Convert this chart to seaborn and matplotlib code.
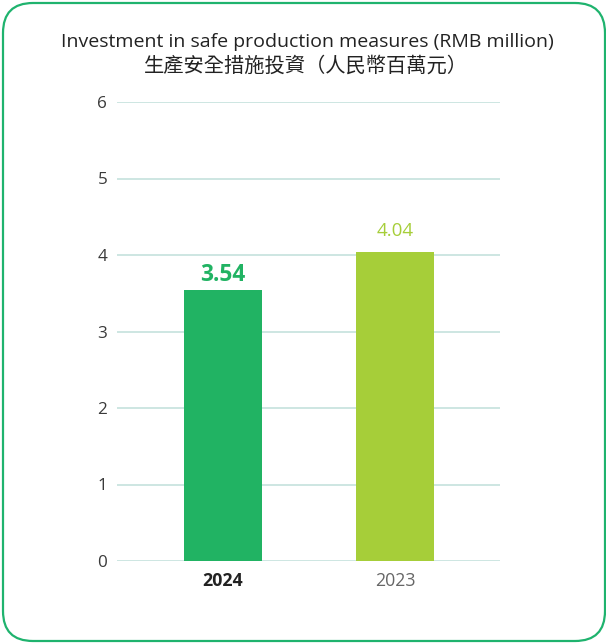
import matplotlib
matplotlib.use("Agg")
import matplotlib.pyplot as plt
from matplotlib.patches import FancyBboxPatch
import seaborn as sns
import pandas as pd

years = ["2024", "2023"]
values = [3.54, 4.04]
bar_colors = ["#21b363", "#a6ce39"]
y_ticks = [0, 1, 2, 3, 4, 5, 6]
title_en = "Investment in safe production measures (RMB million)"
title_zh = "生產安全措施投資（人民幣百萬元）"

sns.set_theme(style="white")
plt.rcParams["font.family"] = ["Open Sans", "Noto Sans CJK TC", "DejaVu Sans"]

W, H = 606, 643
fig = plt.figure(figsize=(W / 100, H / 100), dpi=100)

# rounded frame around the whole card
bg = fig.add_axes([0, 0, 1, 1])
bg.set_xlim(0, W)
bg.set_ylim(H, 0)
bg.axis("off")
bg.add_patch(FancyBboxPatch((3, 3), 602, 638,
                            boxstyle="round,pad=0,rounding_size=30",
                            fill=False, edgecolor="#1fb36e", linewidth=1.6))

fig.text(0.507, 1 - 42 / H, title_en, ha="center", va="center",
         fontsize=14, color="#222222")
fig.text(0.505, 1 - 66 / H, title_zh, ha="center", va="center",
         fontsize=14.6, color="#222222",
         family=["Noto Sans CJK TC", "DejaVu Sans"])

ax = fig.add_axes([117 / W, 1 - 561 / H, (500 - 117) / W, (561 - 102) / H])
df = pd.DataFrame({"year": years, "value": values})
sns.barplot(data=df, x="year", y="value", hue="year", palette=bar_colors,
            width=0.455, saturation=1, legend=False, ax=ax, zorder=3,
            linewidth=0)

ax.set_ylim(0, 6)
ax.set_xlim(-0.616, 1.61)
ax.set_yticks(y_ticks)
ax.set_yticklabels([str(t) for t in y_ticks], fontsize=12.3, color="#3a3a3a")
ax.grid(axis="y", color="#cde6e2", linewidth=1.4, zorder=0)
ax.grid(axis="x", visible=False)
for s in ax.spines.values():
    s.set_visible(False)
ax.tick_params(axis="y", length=0, pad=7)
ax.tick_params(axis="x", length=0, pad=8)
ax.set_xlabel("")
ax.set_ylabel("")

xt = ax.get_xticklabels()
xt[0].set_fontweight("bold")
xt[0].set_color("#222222")
xt[1].set_color("#666666")
for t in xt:
    t.set_fontsize(12.8)

# value labels above the bars
ax.text(0, values[0] + 0.12, f"{values[0]:.2f}", ha="center", va="baseline",
        fontsize=16.3, fontweight="bold", color=bar_colors[0])
ax.text(1, values[1] + 0.21, f"{values[1]:.2f}", ha="center", va="baseline",
        fontsize=13.5, color=bar_colors[1])

fig.savefig("out.png", dpi=100)
